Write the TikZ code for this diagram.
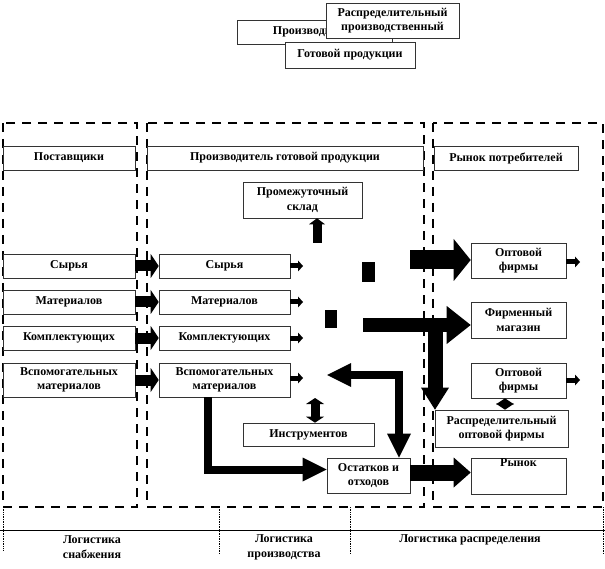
\documentclass[tikz,border=0pt]{standalone}
\usepackage{fontspec}
\setmainfont{Liberation Serif}
\usetikzlibrary{arrows.meta,shadows,calc}
\begin{document}
\begin{tikzpicture}[x=1pt,y=-1pt,
  box/.style={draw=black!80,line width=0.6pt,fill=white,align=center,
    font=\fontsize{12}{14.5}\selectfont\bfseries,inner sep=1pt,
    drop shadow={shadow xshift=1.2pt,shadow yshift=-1.2pt,fill=black!55,opacity=1}},
  col/.style={draw=black,line width=1.6pt,dash pattern=on 9pt off 7pt},
  lab/.style={align=center,font=\fontsize{12}{15}\selectfont\bfseries,inner sep=0pt},
  thin/.style={draw=black,line width=0.7pt,densely dotted},
  arrlm/.style={line width=11pt,-{Triangle[length=8pt,width=24pt,line width=0pt]}},
  arrout/.style={line width=5pt,-{Triangle[length=5pt,width=11pt,line width=0pt]}},
  arrbig/.style={line width=19pt,-{Triangle[length=17pt,width=42pt,line width=0pt]}},
  arrfirm/.style={line width=14pt,-{Triangle[length=24pt,width=38pt,line width=0pt]}},
  arrdown/.style={line width=15pt,-{Triangle[length=22pt,width=28pt,line width=0pt]}},
  arrel/.style={line width=8.5pt,line join=miter,{Triangle[length=24pt,width=24pt,line width=0pt]}-{Triangle[length=24pt,width=24pt,line width=0pt]}},
  arrvsp/.style={line width=8pt,line join=miter,-{Triangle[length=24pt,width=24pt,line width=0pt]}},
  arrrynok/.style={line width=16pt,-{Triangle[length=17pt,width=30pt,line width=0pt]}},
  arrup/.style={line width=9pt,-{Triangle[length=6pt,width=16pt,line width=0pt]}},
  arrdbl/.style={line width=9pt,{Triangle[length=6pt,width=18pt,line width=0pt]}-{Triangle[length=6pt,width=18pt,line width=0pt]}},
]
\useasboundingbox (0,0) rectangle (605,569);

% top overlapping boxes
\node[box,minimum width=155pt,minimum height=24pt] (tprod) at (314.5,32) {Производитель};
\node[box,minimum width=130pt,minimum height=26pt] (tgot) at (350,55) {Готовой продукции};
\node[box,minimum width=133pt,minimum height=35pt] (tdist) at (392.5,20.5) {Распределительный\\производственный};

% columns
\draw[col] (3,123) rectangle (137,507);
\draw[col] (147,123) rectangle (424,507);
\draw[col] (433,123) rectangle (603,507);

% headers
\node[box,minimum width=132pt,minimum height=24pt] (hL) at (69,158) {Поставщики};
\node[box,minimum width=276pt,minimum height=24pt] (hM) at (285,158) {Производитель готовой продукции};
\node[box,minimum width=144pt,minimum height=24pt] (hR) at (506,158) {Рынок потребителей};

% left column
\node[box,minimum width=132pt,minimum height=24pt] (sL) at (69,266) {Сырья};
\node[box,minimum width=132pt,minimum height=24pt] (mL) at (69,302) {Материалов};
\node[box,minimum width=132pt,minimum height=24pt] (kL) at (69,338) {Комплектующих};
\node[box,minimum width=132pt,minimum height=34pt] (vL) at (69,380) {Вспомогательных\\материалов};

% middle column
\node[box,minimum width=131pt,minimum height=24pt] (sM) at (224.5,266) {Сырья};
\node[box,minimum width=131pt,minimum height=24pt] (mM) at (224.5,302) {Материалов};
\node[box,minimum width=131pt,minimum height=24pt] (kM) at (224.5,338) {Комплектующих};
\node[box,minimum width=131pt,minimum height=34pt] (vM) at (224.5,380) {Вспомогательных\\материалов};

\node[box,minimum width=119pt,minimum height=36pt] (sklad) at (302.5,200) {Промежуточный\\склад};
\node[box,minimum width=131pt,minimum height=23pt] (instr) at (308.5,434.5) {Инструментов};
\node[box,minimum width=83pt,minimum height=35pt] (ost) at (368.5,475.5) {Остатков и\\отходов};

% right column
\node[box,minimum width=95pt,minimum height=35pt] (opt1) at (518.5,260.5) {Оптовой\\фирмы};
\node[box,minimum width=95pt,minimum height=36pt] (firm) at (518.5,320) {Фирменный\\магазин};
\node[box,minimum width=95pt,minimum height=35pt] (opt2) at (518.5,380.5) {Оптовой\\фирмы};
\node[box,minimum width=133pt,minimum height=37pt] (rasp) at (501.5,428.5) {Распределительный\\оптовой фирмы};
\node[box,minimum width=95pt,minimum height=36pt] (ryn) at (518.5,476) {Рынок\\[12pt]};

% coordinates
\coordinate (o1) at (303,266);
\coordinate (o2) at (303,302);
\coordinate (o3) at (303,338);
\coordinate (o4) at (303,378);
\coordinate (upst) at (317,243);
\coordinate (bigst) at (410,260);
\coordinate (firmst) at (363,325);
\coordinate (firmj) at (435,325);
\coordinate (elc) at (399,375);
\coordinate (elL) at (327,375);
\coordinate (r1) at (580,262);
\coordinate (r2) at (580,380);

% arrows supplier -> producer
\draw[arrlm] (sL.east) -- (sM.west);
\draw[arrlm] (mL.east) -- (mM.west);
\draw[arrlm] (kL.east) -- (kM.west);
\draw[arrlm] (vL.east) -- (vM.west);

% small outgoing arrows
\draw[arrout] (sM.east) -- (o1);
\draw[arrout] (mM.east) -- (o2);
\draw[arrout] (kM.east) -- (o3);
\draw[arrout] (vM.east |- o4) -- (o4);
\draw[arrout] (opt1.east |- r1) -- (r1);
\draw[arrout] (opt2.east |- r2) -- (r2);

% up arrow to sklad
\draw[arrup] (upst) -- (upst |- sklad.south);

% blobs
\fill (362,262) rectangle (375,282);
\fill (325,310) rectangle (337,328);

% big arrows
\draw[arrbig] (bigst) -- (bigst -| opt1.west);
\draw[arrfirm] (firmst) -- (firmst -| firm.west);
\draw[arrdown] (firmj) -- (firmj |- rasp.north);
\draw[arrel] (elL) -- (elc) -- (elc |- ost.north);
\draw[arrvsp] (vM.south -| 208,0) |- ($(ost.west)+(0,-6)$);
\draw[arrrynok] ($(ost.east)+(0,-3)$) -- ($(ost.east -| ryn.west)+(0,-3)$);
\draw[arrdbl] (instr.north -| 315,0) -- (315,398);
\draw[arrdbl] (opt2.south -| 505,0) -- (rasp.north -| 505,0);

% bottom band
\draw[black,line width=0.8pt] (0,530) -- (605,530);
\draw[thin] (3,507) -- (3,551);
\draw[thin] (219,507) -- (219,553);
\draw[thin] (350,507) -- (350,553);
\draw[thin] (603,507) -- (603,553);
\node[lab] (labS) at (92,547) {Логистика\\снабжения};
\node[lab] (labP) at (284,547) {Логистика\\производства};
\node[lab,anchor=north] (labR) at (470,534) {Логистика распределения};
\end{tikzpicture}
\end{document}
